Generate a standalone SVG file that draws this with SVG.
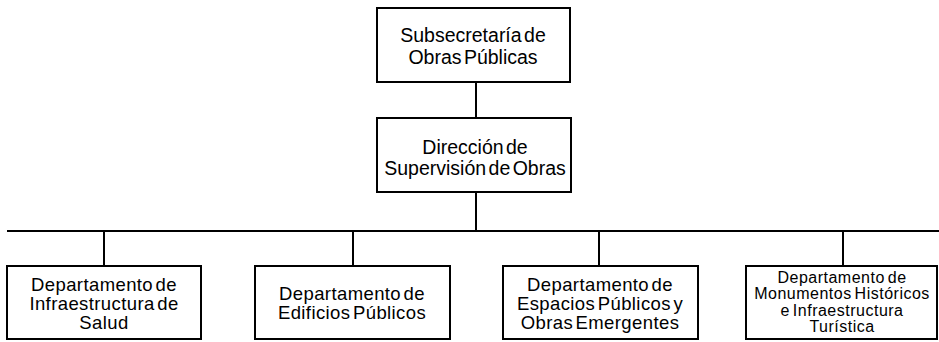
<svg xmlns="http://www.w3.org/2000/svg" width="939" height="342" viewBox="0 0 939 342">
<style>
rect{fill:#fff;stroke:#000;stroke-width:2}
line{stroke:#000;stroke-width:2}
text{font-family:"Liberation Sans",Arial,sans-serif;font-size:19.5px;fill:#000;text-anchor:middle;word-spacing:-3px}
.m{font-size:18.5px;letter-spacing:0.4px}
.s{font-size:16px;letter-spacing:0.5px;word-spacing:-2px}
</style>
<g id="connectors">
<line x1="476" y1="83" x2="476" y2="118"/>
<line x1="476" y1="192" x2="476" y2="231"/>
<line x1="7" y1="231" x2="939" y2="231"/>
<line x1="104" y1="231" x2="104" y2="266"/>
<line x1="353" y1="231" x2="353" y2="266"/>
<line x1="599" y1="231" x2="599" y2="266"/>
<line x1="843" y1="231" x2="843" y2="266"/>
</g>
<g id="subsecretaria">
<rect x="377" y="8" width="193" height="74"/>
<text x="473" y="42">Subsecretaría de</text>
<text x="473" y="64">Obras Públicas</text>
</g>
<g id="direccion">
<rect x="377" y="118" width="194" height="74"/>
<text x="475" y="154">Dirección de</text>
<text x="475" y="175">Supervisión de Obras</text>
</g>
<g id="dep-salud">
<rect x="7" y="266" width="194" height="73"/>
<text class="m" x="104" y="290.5">Departamento de</text>
<text class="m" x="104" y="309.5">Infraestructura de</text>
<text class="m" x="104" y="328.5">Salud</text>
</g>
<g id="dep-edificios">
<rect x="255" y="266" width="195" height="73"/>
<text class="m" x="352" y="299.5">Departamento de</text>
<text class="m" x="352" y="318.5">Edificios Públicos</text>
</g>
<g id="dep-espacios">
<rect x="503" y="266" width="195" height="73"/>
<text class="m" x="600" y="290.5">Departamento de</text>
<text class="m" x="600" y="309.5">Espacios Públicos y</text>
<text class="m" x="600" y="328.5">Obras Emergentes</text>
</g>
<g id="dep-monumentos">
<rect x="746" y="266" width="191" height="73"/>
<text class="s" x="842" y="283">Departamento de</text>
<text class="s" x="842" y="299">Monumentos Históricos</text>
<text class="s" x="842" y="315.5">e Infraestructura</text>
<text class="s" x="842" y="332">Turística</text>
</g>
</svg>
